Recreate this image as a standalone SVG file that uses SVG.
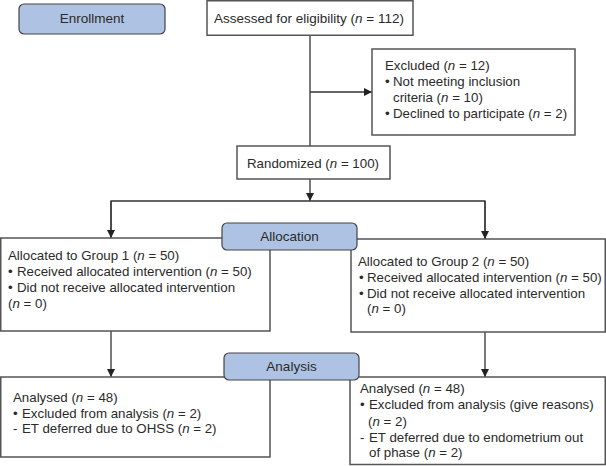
<svg xmlns="http://www.w3.org/2000/svg" width="606" height="466" viewBox="0 0 606 466">
<style>
text{font-family:"Liberation Sans",Arial,sans-serif;font-size:13.3px;fill:#2a2a2a}
.i{font-style:italic}
.box{fill:#fff;stroke:#555;stroke-width:1.5}
.stage{fill:#aec3e3;stroke:#444;stroke-width:1.2}
.ln{fill:none;stroke:#333;stroke-width:1.3}
.c{text-anchor:middle;font-size:13.5px}
</style>
<defs>
<marker id="ah" viewBox="0 0 10 10" refX="10" refY="5" markerWidth="8" markerHeight="8" markerUnits="userSpaceOnUse" orient="auto">
<path d="M0,0 L10,5 L0,10 z" fill="#222"/>
</marker>
</defs>
<rect width="606" height="466" fill="#fff"/>
<g id="connectors">
<path class="ln" d="M310,35 V146"/>
<path class="ln" d="M310,92 H372" marker-end="url(#ah)"/>
<path class="ln" d="M310,179 V201" marker-end="url(#ah)"/>
<path class="ln" d="M111,238 V201 H485 V239"/>
<path class="ln" d="M111,201 V238" marker-end="url(#ah)"/>
<path class="ln" d="M485,201 V239" marker-end="url(#ah)"/>
<path class="ln" d="M111,331 V377" marker-end="url(#ah)"/>
<path class="ln" d="M485,332 V377" marker-end="url(#ah)"/>
</g>
<g id="enrollment">
<rect class="stage" x="19" y="4" width="146" height="30" rx="5"/>
<text class="c" x="92" y="23">Enrollment</text>
</g>
<g id="assessed">
<rect class="box" x="207" y="0.75" width="206" height="34.5"/>
<text x="214" y="23" style="font-size:13.5px">Assessed for eligibility (<tspan class="i">n</tspan> = 112)</text>
</g>
<g id="excluded">
<rect class="box" x="372" y="49" width="203" height="86"/>
<text x="385" y="70">Excluded (<tspan class="i">n</tspan> = 12)</text>
<text x="385" y="86">•<tspan x="393">Not meeting inclusion</tspan></text>
<text x="393" y="102">criteria (<tspan class="i">n</tspan> = 10)</text>
<text x="385" y="118">•<tspan x="393">Declined to participate (<tspan class="i">n</tspan> = 2)</tspan></text>
</g>
<g id="randomized">
<rect class="box" x="237" y="146" width="153" height="33"/>
<text x="247" y="168">Randomized (<tspan class="i">n</tspan> = 100)</text>
</g>
<g id="group1">
<rect class="box" x="0.75" y="238" width="269.25" height="93"/>
<text x="8" y="260">Allocated to Group 1 (<tspan class="i">n</tspan> = 50)</text>
<text x="8" y="276">•<tspan x="17">Received allocated intervention (<tspan class="i">n</tspan> = 50)</tspan></text>
<text x="8" y="292">•<tspan x="17">Did not receive allocated intervention</tspan></text>
<text x="8" y="308">(<tspan class="i">n</tspan> = 0)</text>
</g>
<g id="group2">
<rect class="box" x="351" y="239" width="254.25" height="93"/>
<text x="358" y="266">Allocated to Group 2 (<tspan class="i">n</tspan> = 50)</text>
<text x="359" y="282">•<tspan x="367">Received allocated intervention (<tspan class="i">n</tspan> = 50)</tspan></text>
<text x="359" y="298">•<tspan x="367">Did not receive allocated intervention</tspan></text>
<text x="367" y="313">(<tspan class="i">n</tspan> = 0)</text>
</g>
<g id="allocation">
<rect class="stage" x="222" y="223" width="135" height="27" rx="5"/>
<text class="c" x="289.5" y="241">Allocation</text>
</g>
<g id="analysed1">
<rect class="box" x="0.75" y="377" width="269.25" height="80"/>
<text x="13" y="402">Analysed (<tspan class="i">n</tspan> = 48)</text>
<text x="13" y="418">•<tspan x="22">Excluded from analysis (<tspan class="i">n</tspan> = 2)</tspan></text>
<text x="13" y="433">-<tspan x="22">ET deferred due to OHSS (<tspan class="i">n</tspan> = 2)</tspan></text>
</g>
<g id="analysed2">
<rect class="box" x="350" y="377" width="255.25" height="87.5"/>
<text x="360" y="393">Analysed (<tspan class="i">n</tspan> = 48)</text>
<text x="360" y="409">•<tspan x="369">Excluded from analysis (give reasons)</tspan></text>
<text x="368" y="426">(<tspan class="i">n</tspan> = 2)</text>
<text x="360" y="442">-<tspan x="369">ET deferred due to endometrium out</tspan></text>
<text x="369" y="457">of phase (<tspan class="i">n</tspan> = 2)</text>
</g>
<g id="analysis">
<rect class="stage" x="224" y="353" width="135" height="27" rx="5"/>
<text class="c" x="291.5" y="371">Analysis</text>
</g>
</svg>
